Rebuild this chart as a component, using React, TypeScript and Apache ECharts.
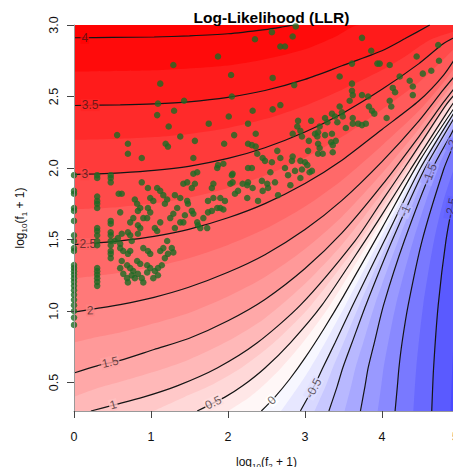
import { useEffect, useRef } from "react";
import * as echarts from "echarts";

// axes: x = log10(f2 + 1), y = log10(f1 + 1)
const X_MIN = 0;
const X_MAX = 5;
const Y_MIN = 0.301;
const Y_MAX = 3;
const X_TICKS = [0, 1, 2, 3, 4, 5];
const Y_TICKS = [0.5, 1, 1.5, 2, 2.5, 3];

// contour lines, [x, y]
const LINE_4 = [[0, 2.911], [0.5, 2.913], [1.04, 2.916], [1.5, 2.924], [2.0, 2.939], [2.48, 2.968], [2.7, 2.986], [2.85, 3.0]];
const LINE_3_5 = [[0, 2.437], [0.6, 2.442], [1.04, 2.449], [1.49, 2.463], [2.0, 2.494], [2.48, 2.542], [3.0, 2.62], [3.48, 2.715], [4.0, 2.82], [4.3, 2.905], [4.62, 3.0]];
const LINE_3 = [[0, 1.955], [0.3, 1.959], [0.6, 1.966], [1.04, 1.983], [1.49, 2.012], [2.0, 2.067], [2.48, 2.142], [3.0, 2.252], [3.48, 2.38], [4.0, 2.55], [4.48, 2.73], [4.8, 2.87], [5.0, 2.93]];
const LINE_2_5 = [[0, 1.464], [0.3, 1.476], [0.6, 1.49], [1.04, 1.522], [1.49, 1.571], [2.0, 1.652], [2.48, 1.751], [3.0, 1.892], [3.48, 2.055], [4.0, 2.27], [4.48, 2.47], [4.8, 2.65], [5.0, 2.81]];
const LINE_2 = [[0, 0.993], [0.3, 1.018], [0.6, 1.045], [1.04, 1.096], [1.49, 1.166], [2.0, 1.271], [2.48, 1.394], [3.0, 1.57], [3.48, 1.774], [4.0, 2.045], [4.48, 2.33], [4.8, 2.55], [5.0, 2.68]];
const LINE_1_5 = [[0, 0.567], [0.3, 0.617], [0.6, 0.655], [1.04, 0.731], [1.49, 0.808], [2.0, 0.932], [2.48, 1.081], [3.0, 1.297], [3.48, 1.546], [4.0, 1.88], [4.48, 2.22], [4.8, 2.46], [5.0, 2.6]];
const LINE_1 = [[0.22, 0.301], [0.51, 0.342], [0.9, 0.398], [1.34, 0.477], [1.86, 0.602], [2.38, 0.778], [2.94, 1.041], [3.65, 1.491], [4.0, 1.77], [4.29, 2.0], [4.5, 2.17], [4.83, 2.44], [5.0, 2.55]];
const LINE_0_5 = [[1.6, 0.301], [1.96, 0.398], [2.19, 0.477], [2.48, 0.602], [2.81, 0.778], [3.22, 1.041], [3.78, 1.491], [4.0, 1.674], [4.37, 1.99], [4.87, 2.41], [5.0, 2.51]];
const LINE_0 = [[2.433, 0.301], [2.6, 0.393], [2.8, 0.523], [3.0, 0.672], [3.25, 0.88], [3.5, 1.104], [4.0, 1.58], [4.5, 2.06], [5.0, 2.47]];
const LINE_M0_5 = [[2.94, 0.301], [3.12, 0.477], [3.23, 0.602], [3.39, 0.778], [3.62, 1.041], [4.03, 1.491], [4.5, 2.0], [4.95, 2.4], [5.0, 2.44]];
const LINE_M1 = [[3.31, 0.301], [3.42, 0.477], [3.49, 0.602], [3.61, 0.778], [3.79, 1.041], [4.13, 1.491], [4.55, 1.99], [4.98, 2.39], [5.0, 2.41]];
const LINE_M1_5 = [[3.72, 0.301], [3.78, 0.477], [3.82, 0.602], [3.9, 0.778], [4.02, 1.041], [4.29, 1.491], [4.65, 1.99], [4.9, 2.24], [5.0, 2.35]];
const LINE_M2 = [[4.17, 0.301], [4.2, 0.477], [4.22, 0.602], [4.26, 0.778], [4.34, 1.041], [4.52, 1.491], [4.8, 1.99], [4.92, 2.15], [5.0, 2.26]];
const LINE_M2_5 = [[4.646, 0.301], [4.67, 0.602], [4.73, 1.041], [4.83, 1.491], [4.93, 1.785], [5.0, 1.949]];

// where the shading passes the levels halfway between the drawn contours
const SHADE_3_75 = [[0, 2.674], [1.04, 2.683], [2.0, 2.717], [2.48, 2.76], [3.0, 2.83], [3.4, 2.92], [3.7, 3.0]];
const SHADE_3_25 = [[0, 2.196], [0.6, 2.204], [1.04, 2.216], [1.49, 2.238], [2.0, 2.28], [2.48, 2.342], [3.0, 2.436], [3.48, 2.548], [4.0, 2.685], [4.3, 2.78], [4.62, 2.895], [5.0, 2.965]];
const SHADE_2_75 = [[0, 1.71], [0.3, 1.718], [0.6, 1.728], [1.04, 1.753], [1.49, 1.792], [2.0, 1.86], [2.48, 1.947], [3.0, 2.072], [3.48, 2.218], [4.0, 2.41], [4.48, 2.6], [4.8, 2.76], [5.0, 2.87]];
const SHADE_2_25 = [[0, 1.229], [0.3, 1.247], [0.6, 1.268], [1.04, 1.309], [1.49, 1.369], [2.0, 1.462], [2.48, 1.573], [3.0, 1.731], [3.48, 1.915], [4.0, 2.158], [4.48, 2.4], [4.8, 2.6], [5.0, 2.745]];
const SHADE_1_75 = [[0, 0.78], [0.3, 0.818], [0.6, 0.85], [1.04, 0.914], [1.49, 0.987], [2.0, 1.102], [2.48, 1.238], [3.0, 1.434], [3.48, 1.66], [4.0, 1.963], [4.48, 2.275], [4.8, 2.505], [5.0, 2.64]];
const SHADE_1_25 = [[0, 0.4], [0.3, 0.46], [0.6, 0.505], [1.04, 0.575], [1.49, 0.66], [2.0, 0.79], [2.48, 0.95], [3.0, 1.19], [3.48, 1.463], [4.0, 1.825], [4.48, 2.185], [4.8, 2.435], [5.0, 2.575]];
const SHADE_0_75 = [[1.03, 0.301], [1.43, 0.398], [1.765, 0.477], [2.17, 0.602], [2.595, 0.778], [3.08, 1.041], [3.715, 1.491], [4.335, 2.0], [4.83, 2.43], [5.0, 2.53]];
const SHADE_0_25 = [[2.0, 0.301], [2.28, 0.398], [2.455, 0.477], [2.69, 0.602], [2.97, 0.778], [3.325, 1.041], [3.84, 1.491], [4.41, 2.0], [5.0, 2.49]];
const SHADE_M0_25 = [[2.69, 0.301], [2.92, 0.477], [3.07, 0.602], [3.26, 0.778], [3.525, 1.041], [3.965, 1.491], [4.47, 2.0], [5.0, 2.455]];
const SHADE_M0_75 = [[3.125, 0.301], [3.27, 0.477], [3.36, 0.602], [3.5, 0.778], [3.705, 1.041], [4.08, 1.491], [4.53, 2.0], [5.0, 2.425]];
const SHADE_M1_25 = [[3.515, 0.301], [3.6, 0.477], [3.655, 0.602], [3.755, 0.778], [3.905, 1.041], [4.21, 1.491], [4.6, 2.0], [5.0, 2.38]];
const SHADE_M1_75 = [[3.945, 0.301], [3.99, 0.477], [4.02, 0.602], [4.08, 0.778], [4.18, 1.041], [4.405, 1.491], [4.725, 2.0], [5.0, 2.305]];
const SHADE_M2_25 = [[4.408, 0.301], [4.445, 0.602], [4.535, 1.041], [4.675, 1.491], [4.805, 1.785], [5.0, 2.1]];
const SHADE_M2_75 = [[4.89, 0.301], [4.92, 0.7], [4.96, 1.1], [5.0, 1.41]];

// drawn contours and shading boundaries with their levels, top to bottom
const CONTOUR_LEVELS = [4, 3.5, 3, 2.5, 2, 1.5, 1, 0.5, 0, -0.5, -1, -1.5, -2, -2.5];
const CONTOURS = [LINE_4, LINE_3_5, LINE_3, LINE_2_5, LINE_2, LINE_1_5, LINE_1, LINE_0_5, LINE_0, LINE_M0_5, LINE_M1, LINE_M1_5, LINE_M2, LINE_M2_5];
const SHADE_LEVELS = [4, 3.75, 3.5, 3.25, 3, 2.75, 2.5, 2.25, 2, 1.75, 1.5, 1.25, 1, 0.75, 0.5, 0.25, 0, -0.25, -0.5, -0.75, -1, -1.25, -1.5, -1.75, -2, -2.25, -2.5, -2.75];
const SHADES = [LINE_4, SHADE_3_75, LINE_3_5, SHADE_3_25, LINE_3, SHADE_2_75, LINE_2_5, SHADE_2_25, LINE_2, SHADE_1_75, LINE_1_5, SHADE_1_25, LINE_1, SHADE_0_75, LINE_0_5, SHADE_0_25, LINE_0, SHADE_M0_25, LINE_M0_5, SHADE_M0_75, LINE_M1, SHADE_M1_25, LINE_M1_5, SHADE_M1_75, LINE_M2, SHADE_M2_25, LINE_M2_5, SHADE_M2_75];

// contour label anchors [x, y] and texts
const LABEL_AT = [[0.14, 2.911], [0.21, 2.44], [0.14, 1.956], [0.18, 1.47], [0.21, 1.005], [0.47, 0.642], [0.51, 0.344], [1.81, 0.36], [2.57, 0.375], [3.11, 0.46], [4.3, 1.7], [4.62, 1.96], [4.91, 2.16], [4.9, 1.72]];
const LABEL_TEXT = ["4", "3.5", "3", "2.5", "2", "1.5", "1", "0.5", "0", "-0.5", "-1", "-1.5", "-2", "-2.5"];

// observed words, [log10(f2+1), log10(f1+1)]
const DOTS_F2_ZERO = [[0, 0.903], [0, 0.954], [0, 1.0], [0, 1.041], [0, 1.079], [0, 1.114], [0, 1.146], [0, 1.176], [0, 1.204], [0, 1.23], [0, 1.255], [0, 1.279], [0, 1.301], [0, 1.322], [0, 1.42], [0, 1.44], [0, 1.49], [0, 1.53], [0, 1.63], [0, 1.7], [0, 1.72], [0, 1.82], [0, 1.84], [0, 1.95]];
const DOTS_F2_ONE = [[0.301, 1.176], [0.301, 1.204], [0.301, 1.23], [0.301, 1.255], [0.301, 1.279], [0.301, 1.301], [0.301, 1.46], [0.301, 1.49], [0.301, 1.53], [0.301, 1.56], [0.301, 1.58], [0.301, 1.72], [0.301, 1.75], [0.301, 1.77], [0.301, 1.8], [0.301, 1.93], [0.301, 1.95]];
const DOTS_LOW = [[0.477, 1.95], [0.477, 1.93], [0.477, 1.9], [0.58, 1.82], [0.62, 1.82], [0.6, 1.69], [0.477, 1.63], [0.477, 1.61], [0.477, 1.55], [0.477, 1.53], [0.477, 1.49], [0.477, 1.46], [0.477, 1.42], [0.477, 1.4], [0.477, 1.37], [0.53, 1.49], [0.57, 1.51], [0.62, 1.54], [0.6, 1.47], [0.6, 1.44], [0.64, 1.42], [0.7, 1.4], [0.73, 1.42], [0.7, 1.55], [0.73, 1.53], [0.75, 1.49], [0.73, 1.62], [0.77, 1.65], [0.83, 1.6], [0.86, 1.58], [0.83, 1.54], [0.86, 1.72], [0.83, 1.7], [0.79, 1.78], [0.82, 1.75], [0.9, 1.65], [0.96, 1.72], [0.99, 1.69], [0.95, 1.65], [0.96, 1.86], [0.99, 1.79], [1.03, 1.77], [0.88, 1.9], [1.08, 1.86], [1.12, 1.84], [1.16, 1.81], [1.21, 1.78], [1.18, 1.75], [1.12, 1.62], [1.05, 1.58], [1.08, 1.56], [0.69, 1.32], [0.73, 1.3], [0.77, 1.28], [0.62, 1.35], [0.6, 1.3], [0.64, 1.26], [0.69, 1.23], [0.7, 1.2], [0.75, 1.25], [0.79, 1.23], [0.83, 1.26], [0.82, 1.35], [0.86, 1.33], [0.9, 1.44], [0.96, 1.42], [0.99, 1.4], [0.95, 1.32], [0.99, 1.3], [0.95, 1.27], [0.88, 1.23], [0.9, 1.2], [1.05, 1.28], [1.09, 1.3], [1.14, 1.32], [1.12, 1.42], [1.16, 1.44], [1.03, 1.23], [1.09, 1.25], [1.18, 1.37], [1.22, 1.4], [1.27, 1.44], [1.29, 1.41], [1.21, 1.49]];
const DOTS_MID = [[1.31, 1.58], [1.25, 1.65], [1.29, 1.68], [1.38, 1.62], [1.42, 1.62], [1.34, 1.72], [1.44, 1.67], [1.38, 1.79], [1.31, 1.81], [1.47, 1.77], [1.42, 1.89], [1.47, 1.9], [1.55, 1.96], [1.6, 1.97], [1.53, 1.86], [1.57, 1.89], [1.48, 1.75], [1.53, 1.7], [1.55, 1.68], [1.6, 1.62], [1.61, 1.6], [1.64, 1.58], [1.73, 1.58], [1.68, 1.65], [1.74, 1.69], [1.79, 1.7], [1.74, 1.77], [1.81, 1.79], [1.9, 1.79], [1.96, 1.77], [1.86, 1.72], [1.9, 1.72], [1.94, 1.71], [1.79, 1.86], [1.81, 1.89], [1.86, 2.0], [1.87, 2.02], [1.94, 2.03], [2.03, 1.89], [2.06, 1.9], [2.05, 1.95], [2.06, 1.96], [2.09, 1.82], [2.13, 1.84], [2.19, 1.89], [2.25, 1.88], [2.26, 2.0], [2.31, 2.0], [2.32, 1.86], [2.38, 2.1], [2.48, 2.05], [2.57, 2.04], [2.55, 1.97], [2.68, 2.07], [2.74, 2.0], [2.78, 1.95], [2.83, 2.05], [2.87, 1.98], [2.44, 1.91], [2.52, 1.86], [2.61, 1.9], [2.81, 1.88], [2.94, 1.93], [2.65, 1.81], [2.25, 1.79], [2.39, 1.77], [2.45, 2.07], [2.64, 2.12], [2.84, 2.08], [3.09, 1.98], [3.17, 2.1], [2.26, 1.9], [2.45, 1.84], [2.51, 1.89]];
const DOTS_UPPER_LEFT = [[0.56, 2.23], [0.7, 2.17], [0.7, 2.1], [0.88, 2.07], [1.12, 2.59], [1.09, 2.45], [1.08, 2.37], [1.23, 2.29], [1.19, 2.17], [1.22, 2.15], [1.29, 2.72], [1.3, 2.4], [1.38, 2.22], [1.43, 2.47], [1.57, 2.19], [1.55, 2.07], [1.75, 2.31], [1.87, 2.78], [1.95, 2.17], [2.01, 2.36], [2.04, 2.65], [2.08, 2.23], [2.05, 2.5], [2.26, 2.31], [2.26, 2.17], [2.31, 2.16], [2.36, 2.15], [2.35, 2.9], [2.32, 2.4], [2.36, 2.24], [2.57, 2.95], [2.58, 2.63], [2.58, 2.41], [2.68, 2.44], [2.68, 2.85], [2.74, 2.85], [2.84, 2.92], [2.88, 2.99], [2.86, 2.58], [2.84, 2.24], [2.9, 2.29], [2.91, 2.33]];
const DOTS_UPPER_RIGHT = [[3.74, 2.91], [3.86, 2.82], [3.61, 2.73], [3.94, 2.73], [3.97, 2.73], [4.1, 2.72], [4.45, 2.78], [4.73, 2.86], [4.74, 2.75], [4.64, 2.68], [4.53, 2.66], [4.23, 2.64], [3.45, 2.64], [3.61, 2.59], [4.36, 2.61], [4.4, 2.57], [4.4, 2.51], [4.14, 2.56], [4.17, 2.53], [3.61, 2.54], [3.62, 2.51], [3.74, 2.51], [3.82, 2.5], [3.58, 2.47], [3.83, 2.43], [3.87, 2.4], [3.9, 2.38], [4.1, 2.47], [4.12, 2.43], [3.45, 2.43], [3.48, 2.39], [3.49, 2.36], [3.35, 2.38], [3.26, 2.35], [3.29, 2.32], [3.08, 2.33], [3.19, 2.29], [3.17, 2.25], [3.39, 2.36], [3.42, 2.32], [3.62, 2.35], [4.06, 2.35], [3.62, 2.31], [3.69, 2.31], [3.74, 2.3], [3.79, 2.31], [3.53, 2.28], [2.94, 2.26], [2.96, 2.22], [3.13, 2.24], [3.16, 2.22], [3.26, 2.23], [3.35, 2.24], [3.05, 2.19], [3.34, 2.18], [3.36, 2.16], [3.4, 2.19], [3.17, 2.17], [3.19, 2.14], [3.04, 2.12], [3.23, 2.1], [3.36, 2.11], [2.94, 2.05], [3.0, 2.04], [3.03, 2.02], [3.06, 1.97], [2.96, 1.99]];

const FONT = "'Liberation Sans', Arial, Helvetica, sans-serif";
const V_MAX = 4.05;

function llrColor(v: number): string {
  const t = Math.min(1, Math.abs(v) / V_MAX);
  const c = Math.round(255 * (1 - t));
  return v >= 0 ? `rgb(255,${c},${c})` : `rgb(${c},${c},255)`;
}

const LABEL_ANGLE = [0, 0, 0, 0, 2, 13, 15, 26, 45, 61, 66, 69, 70, 79];

export default function App() {
  const ref = useRef<HTMLDivElement>(null);

  useEffect(() => {
    if (!ref.current) return;
    const chart = echarts.init(ref.current, undefined, { renderer: "svg" });

    const baseSeries = {
      type: "line",
      data: [[X_MIN, Y_MAX], [X_MAX, Y_MAX]],
      symbol: "none",
      silent: true,
      lineStyle: { width: 0, opacity: 0 },
      areaStyle: { color: llrColor(4.02), opacity: 1, origin: "start" },
      z: 1,
    };

    const bandSeries = SHADES.map((pts, i) => {
      const last = pts[pts.length - 1];
      const data = last[1] >= Y_MAX - 1e-6 && last[0] < X_MAX ? [...pts, [X_MAX, Y_MAX]] : pts;
      return {
        type: "line",
        data,
        smooth: 0.25,
        symbol: "none",
        silent: true,
        lineStyle: { width: 0, opacity: 0 },
        areaStyle: { color: llrColor(SHADE_LEVELS[i] - 0.125), opacity: 1, origin: "start" },
        z: 1,
      };
    });

    const lineSeries = CONTOURS.map((pts) => ({
      type: "line",
      data: pts,
      smooth: 0.25,
      symbol: "none",
      silent: true,
      lineStyle: { color: "#151515", width: 1.2 },
      z: 2,
    }));

    const labelSeries = {
      type: "scatter",
      silent: true,
      symbol: "circle",
      symbolSize: 1,
      itemStyle: { color: "rgba(0,0,0,0)" },
      z: 3,
      data: LABEL_AT.map((p, i) => ({
        value: p,
        label: {
          show: true,
          position: "inside",
          formatter: LABEL_TEXT[i],
          rotate: LABEL_ANGLE[i],
          backgroundColor: llrColor(CONTOUR_LEVELS[i]),
          padding: [0, 1],
          color: "rgba(40,20,20,0.85)",
          fontSize: 12,
          fontFamily: FONT,
        },
      })),
    };

    const dots = [...DOTS_F2_ZERO, ...DOTS_F2_ONE, ...DOTS_LOW, ...DOTS_MID, ...DOTS_UPPER_LEFT, ...DOTS_UPPER_RIGHT];

    const axisName = (sub: string) => `log{s|10}(f{s|${sub}} + 1)`;
    const nameStyle = {
      fontFamily: FONT, fontSize: 12, color: "#111", lineHeight: 16,
      rich: { s: { fontFamily: FONT, fontSize: 8, lineHeight: 16, verticalAlign: "bottom", color: "#111" } },
    };

    const option = {
      animation: false,
      title: {
        text: "Log-Likelihood (LLR)",
        left: 266.5,
        textAlign: "center",
        top: 4,
        textStyle: { fontFamily: FONT, fontWeight: "bold", fontSize: 15.5, color: "#000" },
      },
      grid: { left: 74, right: 2, top: 25, bottom: 64, outerBoundsMode: "none" },
      xAxis: {
        type: "value",
        min: X_MIN,
        max: X_MAX,
        interval: 1,
        z: 10,
        name: axisName("2"),
        nameLocation: "middle",
        nameGap: 43,
        nameTextStyle: nameStyle,
        axisLine: { show: true, lineStyle: { color: "#999", width: 1 } },
        axisTick: { show: true, length: 7, lineStyle: { color: "#444" }, customValues: X_TICKS },
        axisLabel: {
          margin: 19, fontFamily: FONT, fontSize: 12.5, color: "#111",
          customValues: X_TICKS, showMaxLabel: true, showMinLabel: true, hideOverlap: false,
          alignMaxLabel: "right",
        },
        splitLine: { show: false },
      },
      yAxis: {
        type: "value",
        min: Y_MIN,
        max: Y_MAX,
        z: 10,
        name: axisName("1"),
        nameLocation: "middle",
        nameRotate: 90,
        nameGap: 46,
        nameTextStyle: nameStyle,
        axisLine: { show: true, lineStyle: { color: "#999", width: 1 } },
        axisTick: { show: true, length: 7, lineStyle: { color: "#444" }, customValues: Y_TICKS },
        axisLabel: {
          margin: 14,
          rotate: 90,
          fontFamily: FONT,
          fontSize: 12.5,
          color: "#111",
          customValues: Y_TICKS,
          showMaxLabel: true,
          formatter: (v: number) => v.toFixed(1),
        },
        splitLine: { show: false },
      },
      series: [
        baseSeries,
        ...bandSeries,
        ...lineSeries,
        labelSeries,
        {
          type: "scatter",
          data: dots,
          symbol: "circle",
          symbolSize: 6.5,
          itemStyle: { color: "#1c6b24" },
          silent: true,
          z: 5,
        },
      ],
    };

    chart.setOption(option as any);
    return () => chart.dispose();
  }, []);

  return <div ref={ref} style={{ width: 461, height: 475, margin: -8 }} />;
}
